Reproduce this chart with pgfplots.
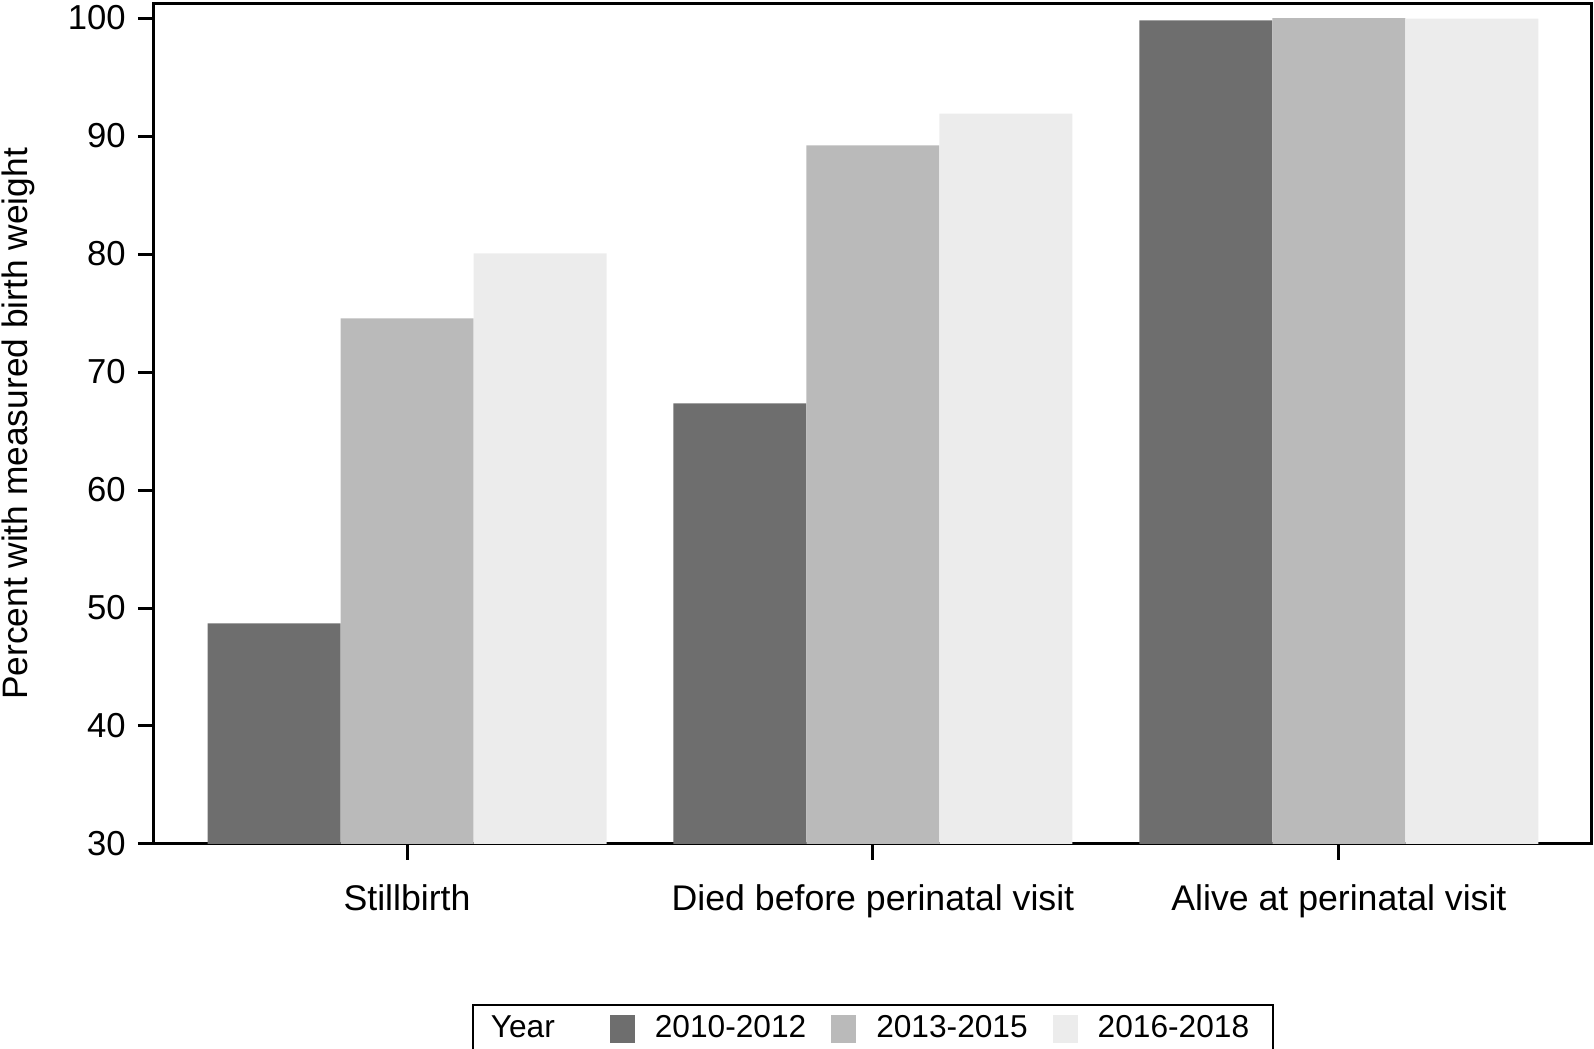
\documentclass[border=0pt]{standalone}
\usepackage{pgfplots}
\pgfplotsset{compat=1.18}
\usepackage{fontspec}
\setmainfont{Liberation Sans}

\definecolor{darkbar}{HTML}{6E6E6E}
\definecolor{midbar}{HTML}{BABABA}
\definecolor{lightbar}{HTML}{ECECEC}

\pgfplotsset{
  sqleg/.style={legend image code/.code={\fill[##1] (0pt,-4.2pt) rectangle (7.5pt,4.2pt);}},
}

\begin{document}
\fontsize{10.4}{12.4}\selectfont
\begin{tikzpicture}
\path[use as bounding box] (-46.2pt,-61.5pt) rectangle (432pt,253.2pt);
\begin{axis}[
  at={(0,0)}, anchor=south west,
  width=431.1pt, height=252pt, scale only axis,
  ybar=0pt, bar width=39.9pt,
  xmin=-0.543, xmax=2.541,
  ymin=30, ymax=101.19,
  xtick={0,1,2},
  xticklabels={Stillbirth, Died before perinatal visit, Alive at perinatal visit},
  ytick={30,40,...,100},
  tick pos=left, tick align=outside,
  major tick length=4.8pt,
  axis line style={line width=0.9pt},
  every tick/.style={black, line width=0.9pt},
  /pgf/number format/assume math mode=true,
  yticklabel style={font=\fontsize{10.4}{12.4}\selectfont},
  xticklabel style={font=\fontsize{10.7}{12.8}\selectfont, yshift=-3.8pt},
  ylabel={Percent with measured birth weight},
  every axis y label/.style={at={(axis description cs:0,0.5)}, xshift=-45.9pt, rotate=90, anchor=north, inner sep=0pt, font=\fontsize{10.6}{12.6}\selectfont},
  legend style={at={(axis description cs:0.5,0)}, anchor=north, yshift=-48pt,
    draw=black, line width=0.6pt, inner xsep=7pt, inner ysep=3pt,
    legend columns=-1, font=\fontsize{9.5}{11.4}\selectfont,
    nodes={inner sep=0pt},
    /tikz/every odd column/.append style={column sep=6pt},
    /tikz/every even column/.append style={column sep=7.5pt}},
]
\addlegendimage{empty legend}
\addplot[fill=darkbar, draw=none, sqleg] coordinates {(0,48.7) (1,67.35) (2,99.8)};
\addplot[fill=midbar, draw=none, sqleg] coordinates {(0,74.55) (1,89.2) (2,100.0)};
\addplot[fill=lightbar, draw=none, sqleg] coordinates {(0,80.05) (1,91.9) (2,99.95)};
\legend{\hspace*{-7.5pt}Year\hspace*{9pt}, 2010-2012, 2013-2015, 2016-2018}
\end{axis}
\end{tikzpicture}
\end{document}
